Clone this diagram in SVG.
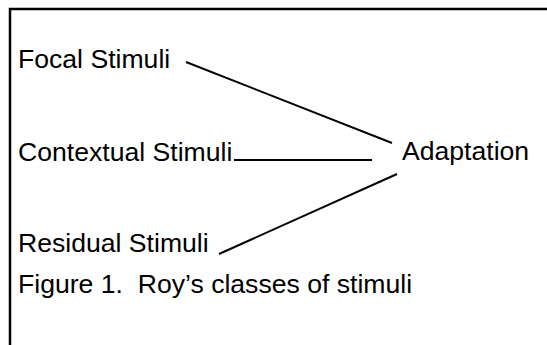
<svg xmlns="http://www.w3.org/2000/svg" width="547" height="345" viewBox="0 0 547 345">
<style>
  text { font-family: "Liberation Sans", Arial, sans-serif; font-size: 26.6px; fill: #000; white-space: pre; }
  .frame { stroke: #000; stroke-width: 2.5; fill: none; }
  .conn { stroke: #000; stroke-width: 2; fill: none; }
</style>
<rect width="547" height="345" fill="#fff"/>
<path class="frame" d="M10 345 V9 H547"/>
<g id="connectors">
  <line class="conn" x1="186" y1="62" x2="392" y2="143"/>
  <line class="conn" x1="234" y1="160" x2="372" y2="160"/>
  <line class="conn" x1="219" y1="254" x2="397" y2="174"/>
</g>
<g id="focal"><text x="18" y="68">Focal Stimuli</text></g>
<g id="contextual"><text x="18" y="161">Contextual Stimuli</text></g>
<g id="residual"><text x="18" y="252">Residual Stimuli</text></g>
<g id="adaptation"><text x="402" y="160">Adaptation</text></g>
<g id="caption"><text x="18" y="293" xml:space="preserve">Figure 1.  Roy’s classes of stimuli</text></g>
</svg>
